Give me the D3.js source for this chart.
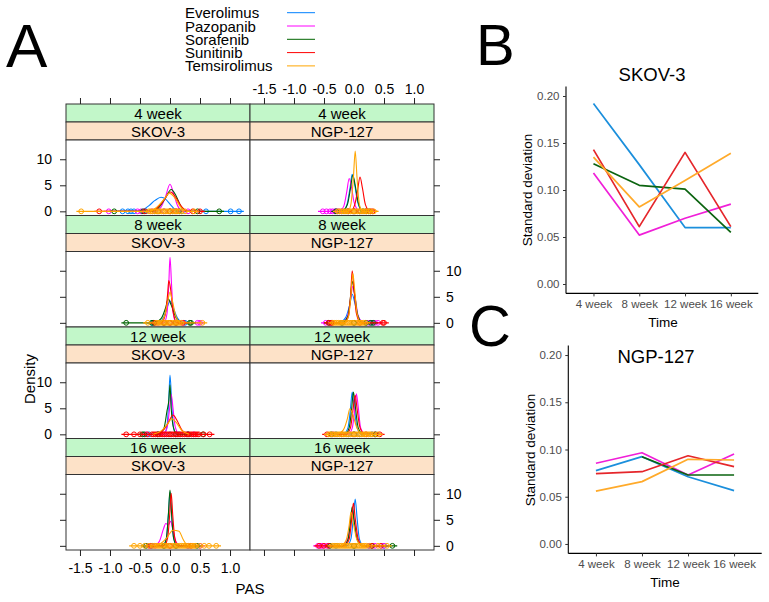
<!DOCTYPE html>
<html><head><meta charset="utf-8">
<script src="https://cdn.jsdelivr.net/npm/d3@7"></script>
<style>body{margin:0;background:#fff} svg{display:block;font-family:"Liberation Sans",Arial,sans-serif}</style>
</head><body><svg id="c" width="769" height="602"></svg>
<script>
// ---------- data ----------
const drugs = ["Everolimus","Pazopanib","Sorafenib","Sunitinib","Temsirolimus"];
const weeks = ["4 week","8 week","12 week","16 week"];
const cellLines = ["SKOV-3","NGP-127"];
const pasTicks = [-1.5,-1.0,-0.5,0.0,0.5,1.0];
const densityTicks = [0,5,10];
const sdTicks = [0.00,0.05,0.10,0.15,0.20];

// density curves: [PAS, density] per drug (drug order as above)
const dens4_SKOV3 = [
 [[-0.55,0],[-0.45,0.3],[-0.35,1.1],[-0.25,2.1],[-0.15,2.7],[-0.07,2.3],[0.0,1.4],[0.08,0.4],[0.15,0]],
 [[-0.25,0],[-0.15,0.8],[-0.08,2.6],[0.0,5.2],[0.06,3.4],[0.13,1.0],[0.22,0]],
 [[-0.3,0],[-0.18,0.8],[-0.08,2.5],[0.02,4.2],[0.1,3.0],[0.18,1.0],[0.28,0]],
 [[-0.32,0],[-0.2,0.8],[-0.1,2.2],[0.01,3.7],[0.1,2.6],[0.2,0.8],[0.3,0]],
 [[-0.35,0],[-0.22,0.8],[-0.1,2.3],[-0.01,3.5],[0.08,2.6],[0.18,0.8],[0.28,0]]
];
const dens4_NGP127 = [
 [[-0.2,0],[-0.12,1.2],[-0.07,4.2],[-0.03,7.1],[0.01,5.2],[0.06,1.8],[0.14,0]],
 [[-0.25,0],[-0.17,1.0],[-0.12,3.8],[-0.08,6.3],[-0.04,4.5],[0.0,1.8],[0.08,0]],
 [[-0.2,0],[-0.11,1.3],[-0.06,4.3],[-0.02,6.9],[0.02,5.0],[0.07,1.7],[0.15,0]],
 [[-0.06,0],[0.01,1.2],[0.06,4.0],[0.10,6.6],[0.14,4.5],[0.19,1.3],[0.27,0]],
 [[-0.1,0],[-0.05,1.5],[-0.01,6.5],[0.02,11.6],[0.05,6.5],[0.09,1.3],[0.14,0]]
];
const dens8_SKOV3 = [
 [[-0.2,0],[-0.1,1.2],[-0.04,3.2],[0.0,4.2],[0.05,3.0],[0.12,1.0],[0.22,0]],
 [[-0.1,0],[-0.05,1.8],[-0.02,7.5],[0.0,12.6],[0.025,7.5],[0.055,1.8],[0.1,0]],
 [[-0.28,0],[-0.15,0.8],[-0.07,3.0],[-0.03,4.6],[0.02,3.4],[0.1,1.0],[0.2,0]],
 [[-0.15,0],[-0.08,1.5],[-0.04,5.5],[-0.02,8.1],[0.01,6.5],[0.05,2.2],[0.12,0]],
 [[-0.18,0],[-0.09,1.3],[-0.04,4.0],[0.0,5.9],[0.04,4.2],[0.1,1.2],[0.18,0]]
];
const dens8_NGP127 = [
 [[-0.25,0],[-0.14,1.0],[-0.07,3.5],[-0.03,5.5],[0.01,4.0],[0.07,1.2],[0.16,0]],
 [[-0.2,0],[-0.11,1.2],[-0.06,4.3],[-0.02,7.0],[0.02,4.8],[0.07,1.3],[0.16,0]],
 [[-0.2,0],[-0.1,1.3],[-0.06,4.8],[-0.03,8.0],[0.01,5.5],[0.06,1.5],[0.14,0]],
 [[-0.16,0],[-0.09,1.4],[-0.055,5.5],[-0.03,10.0],[0.0,6.5],[0.04,1.8],[0.11,0]],
 [[-0.16,0],[-0.09,1.3],[-0.05,5.5],[-0.02,9.5],[0.01,6.5],[0.05,1.8],[0.12,0]]
];
const dens12_SKOV3 = [
 [[-0.1,0],[-0.05,1.6],[-0.02,6.8],[0.0,11.4],[0.025,6.8],[0.055,1.5],[0.1,0]],
 [[-0.12,0],[-0.05,1.2],[-0.01,4.6],[0.02,7.7],[0.05,5.0],[0.09,1.3],[0.16,0]],
 [[-0.2,0],[-0.1,1.2],[-0.05,4.5],[-0.02,6.5],[0.0,9.5],[0.02,5.0],[0.06,1.2],[0.12,0]],
 [[-0.25,0],[-0.12,0.7],[-0.03,2.2],[0.05,3.7],[0.12,2.6],[0.2,0.8],[0.32,0]],
 [[-0.28,0],[-0.14,0.7],[-0.04,2.0],[0.03,3.0],[0.11,2.2],[0.2,0.7],[0.32,0]]
];
const dens12_NGP127 = [
 [[-0.18,0],[-0.1,1.3],[-0.06,4.8],[-0.03,8.1],[0.0,5.5],[0.05,1.3],[0.13,0]],
 [[-0.1,0],[-0.03,1.2],[0.01,4.6],[0.04,7.8],[0.07,5.3],[0.11,1.3],[0.19,0]],
 [[-0.15,0],[-0.08,1.3],[-0.04,4.8],[-0.01,8.1],[0.02,5.5],[0.07,1.3],[0.15,0]],
 [[-0.14,0],[-0.06,1.2],[-0.02,4.4],[0.02,7.5],[0.05,5.0],[0.1,1.3],[0.18,0]],
 [[-0.3,0],[-0.18,0.8],[-0.11,3.0],[-0.07,4.9],[-0.02,3.8],[0.05,1.2],[0.15,0]]
];
const dens16_SKOV3 = [
 [[-0.12,0],[-0.06,1.5],[-0.025,6.2],[0.0,10.4],[0.025,6.2],[0.06,1.5],[0.12,0]],
 [[-0.27,0],[-0.18,0.8],[-0.11,3.2],[-0.07,4.3],[-0.03,4.0],[0.01,4.7],[0.05,3.0],[0.1,0.8],[0.18,0]],
 [[-0.12,0],[-0.06,1.5],[-0.025,6.4],[0.0,10.7],[0.025,6.4],[0.06,1.5],[0.12,0]],
 [[-0.1,0],[-0.04,1.5],[-0.005,6.0],[0.02,10.1],[0.045,6.0],[0.08,1.5],[0.14,0]],
 [[-0.3,0],[-0.15,0.5],[-0.05,1.6],[0.05,3.0],[0.15,2.8],[0.22,1.2],[0.3,0]]
];
const dens16_NGP127 = [
 [[-0.12,0],[-0.05,1.4],[-0.01,5.5],[0.02,9.0],[0.05,5.5],[0.09,1.3],[0.16,0]],
 [[-0.2,0],[-0.11,1.2],[-0.06,4.2],[-0.03,6.9],[0.01,4.5],[0.06,1.2],[0.15,0]],
 [[-0.18,0],[-0.1,1.2],[-0.06,4.5],[-0.03,7.5],[0.0,5.0],[0.05,1.3],[0.13,0]],
 [[-0.16,0],[-0.08,1.3],[-0.04,4.9],[-0.01,8.2],[0.02,5.3],[0.07,1.3],[0.15,0]],
 [[-0.22,0],[-0.13,1.1],[-0.08,4.0],[-0.05,6.5],[-0.01,4.3],[0.05,1.1],[0.14,0]]
];

// PAS observations (points on the baseline), per drug
const pas4_SKOV3 = [
 [-0.79,-0.7,-0.65,-0.6,-0.4,-0.25,-0.1,0.05,0.2,0.6,1.01,1.15],
 [-1.02,-0.54,-0.48,-0.3,-0.1,0.0,0.1,0.3],
 [-0.93,-0.45,-0.2,0.0,0.15,0.46,0.82],
 [-1.18,-0.42,-0.2,0.0,0.1,0.38,0.5],
 [-1.48,-0.35,-0.32,-0.29,-0.26,-0.23,-0.2,-0.17,-0.14,-0.11,-0.08,-0.05,-0.02,0.01,0.04,0.07,0.1,0.13,0.16,0.19,0.25,0.4]
];
const pas4_NGP127 = [
 [-0.3,-0.2,-0.1,0.0,0.1,0.2],
 [-0.52,-0.46,-0.4,-0.36,-0.32,-0.28,-0.25,-0.2,-0.1,0.0],
 [-0.3,-0.15,0.0,0.15,0.25],
 [-0.1,0.0,0.1,0.2,0.28,0.31],
 [-0.27,-0.24,-0.21,-0.18,-0.15,-0.12,-0.09,-0.06,-0.03,0.0,0.03,0.06,0.09,0.12,0.15,0.18,0.21,0.24,0.27,0.33]
];
const pas8_SKOV3 = [
 [-0.3,-0.1,0.0,0.1,0.25],
 [-0.2,0.0,0.2,0.46,0.5],
 [-0.73,-0.3,-0.27,-0.1,0.1,0.33,0.35],
 [-0.25,-0.1,0.0,0.1,0.22],
 [-0.37,-0.23,-0.2,-0.17,-0.14,-0.11,-0.08,-0.05,-0.02,0.01,0.04,0.07,0.1,0.13,0.16,0.19,0.54]
];
const pas8_NGP127 = [
 [-0.38,-0.2,0.0,0.2,0.3],
 [-0.47,-0.4,0.25,0.35,0.4],
 [-0.42,-0.2,0.0,0.2,0.28,0.32],
 [-0.42,-0.38,-0.36,0.1,0.48,0.5],
 [-0.35,-0.32,-0.29,-0.26,-0.23,-0.2,-0.17,-0.14,-0.11,-0.08,-0.05,-0.02,0.01,0.04,0.07,0.1,0.13,0.16,0.19]
];
const pas12_SKOV3 = [
 [-0.35,-0.2,0.0,0.15,0.3],
 [-0.4,-0.1,0.1,0.4],
 [-0.46,-0.43,-0.2,0.1,0.3,0.55],
 [-0.73,-0.6,-0.5,-0.38,-0.3,-0.27,-0.24,-0.21,-0.18,-0.15,-0.12,-0.09,-0.06,-0.03,0.0,0.03,0.06,0.09,0.12,0.15,0.18,0.21,0.24,0.27,0.3,0.33,0.36,0.39,0.42,0.45,0.48,0.56,0.66],
 []
];
const pas12_NGP127 = [
 [-0.3,-0.1,0.1,0.3],
 [-0.35,0.0,0.35],
 [-0.38,0.0,0.36],
 [-0.45,-0.2,0.2,0.43],
 [-0.42,-0.39,-0.36,-0.33,-0.3,-0.27,-0.24,-0.21,-0.18,-0.15,-0.12,-0.09,-0.06,-0.03,0.0,0.03,0.06,0.09,0.12,0.15,0.18,0.21,0.24,0.27,0.3,0.34,0.4]
];
const pas16_SKOV3 = [
 [-0.3,-0.1,0.1,0.3],
 [-0.35,-0.25,0.0,0.3,0.5],
 [-0.4,-0.1,0.1,0.45],
 [-0.32,0.0,0.35],
 [-0.6,-0.5,-0.42,-0.35,-0.29,-0.26,-0.23,-0.2,-0.17,-0.14,-0.11,-0.08,-0.05,-0.02,0.01,0.04,0.07,0.1,0.13,0.16,0.19,0.22,0.25,0.28,0.31,0.34,0.37,0.4,0.43,0.5,0.57,0.65,0.77]
];
const pas16_NGP127 = [
 [-0.3,0.0,0.25,0.5],
 [-0.6,-0.55,-0.52,-0.45,0.25,0.35,0.5],
 [-0.4,0.0,0.3,0.64],
 [-0.58,-0.5,-0.42,0.3,0.45],
 [-0.36,-0.33,-0.3,-0.27,-0.24,-0.21,-0.18,-0.15,-0.12,-0.09,-0.06,-0.03,0.0,0.03,0.06,0.09,0.12,0.15,0.18,0.21,0.26,0.4,0.55]
];

// standard deviations (panels B and C), per drug over weeks
const sdSKOV3 = [
 [0.192,0.127,0.060,0.060],
 [0.118,0.052,0.070,0.085],
 [0.128,0.105,0.101,0.055],
 [0.143,0.061,0.140,0.061],
 [0.135,0.082,0.110,0.139]
];
const sdNGP127 = [
 [0.0776,0.0924,0.0712,0.0564],
 [0.0854,0.0966,0.0730,0.0952],
 [null,0.0924,0.0730,0.0730],
 [0.0745,0.0765,0.0934,0.0818],
 [0.0560,0.0660,0.0896,0.0889]
];

// ---------- styles ----------
const colA = ["#0080ff","#ff00ff","#006400","#ff0000","#ffa500"];
const colB = ["#1b8fdc","#f01fd8","#0b6410","#e5262b","#ffaa2a"];
const stripWeekCol = "#c2f7c9", stripCellCol = "#fde2c8";

const svg = d3.select("#c");

// ---------- panel A ----------
const A = {left:66, top:104, colW:184, rowH:111.5, stripH:18};
const panelData = [
 [[dens4_SKOV3,pas4_SKOV3],[dens4_NGP127,pas4_NGP127]],
 [[dens8_SKOV3,pas8_SKOV3],[dens8_NGP127,pas8_NGP127]],
 [[dens12_SKOV3,pas12_SKOV3],[dens12_NGP127,pas12_NGP127]],
 [[dens16_SKOV3,pas16_SKOV3],[dens16_NGP127,pas16_NGP127]]
];
const fmt = d => d.toFixed(1);
const axisCol = "#222";

panelData.forEach((row, r) => {
  row.forEach((cell, c) => {
    const x0 = A.left + c*A.colW, x1 = x0 + A.colW;
    const top = A.top + r*A.rowH;
    const pTop = top + 2*A.stripH, pBot = top + A.rowH;
    const x = d3.scaleLinear([-1.733,1.333],[x0,x1]);
    const y = d3.scaleLinear([-0.8,13.7],[pBot,pTop]);
    const g = svg.append("g");
    // strips
    g.append("rect").attr("x",x0).attr("y",top).attr("width",A.colW).attr("height",A.stripH)
      .attr("fill",stripWeekCol).attr("stroke","#333").attr("stroke-width",1);
    g.append("rect").attr("x",x0).attr("y",top+A.stripH).attr("width",A.colW).attr("height",A.stripH)
      .attr("fill",stripCellCol).attr("stroke","#333").attr("stroke-width",1);
    g.append("text").attr("x",(x0+x1)/2).attr("y",top+14.5).attr("text-anchor","middle")
      .attr("font-size",15).text(weeks[r]);
    g.append("text").attr("x",(x0+x1)/2).attr("y",top+A.stripH+14.5).attr("text-anchor","middle")
      .attr("font-size",15).text(cellLines[c]);
    // panel
    g.append("rect").attr("x",x0).attr("y",pTop).attr("width",A.colW).attr("height",pBot-pTop)
      .attr("fill","#fff").attr("stroke","#333").attr("stroke-width",1);
    const clipId = `clip${r}${c}`;
    svg.append("clipPath").attr("id",clipId).append("rect")
      .attr("x",x0).attr("y",pTop).attr("width",A.colW).attr("height",pBot-pTop);
    const pg = g.append("g").attr("clip-path",`url(#${clipId})`);
    const [dens, pas] = cell;
    const line = d3.line().x(d=>x(d[0])).y(d=>y(d[1])).curve(d3.curveMonotoneX);
    drugs.forEach((dname, k) => {
      const pts = pas[k];
      pg.selectAll(null).data(pts).join("circle")
        .attr("cx",d=>x(d)).attr("cy",y(0)).attr("r",2.4)
        .attr("fill","none").attr("stroke",colA[k]).attr("stroke-width",1);
      const cv = dens[k].slice();
      const lo = Math.min(cv[0][0], pts.length ? d3.min(pts)-0.08 : cv[0][0]);
      const hi = Math.max(cv[cv.length-1][0], pts.length ? d3.max(pts)+0.08 : cv[cv.length-1][0]);
      if (lo < cv[0][0]) cv.unshift([lo,0]);
      if (hi > cv[cv.length-1][0]) cv.push([hi,0]);
      pg.append("path").attr("d",line(cv)).attr("fill","none")
        .attr("stroke",colA[k]).attr("stroke-width",1.1);
    });
    // axes
    if (r === 0) {
      const ax = svg.append("g").attr("transform",`translate(0,${A.top})`)
        .call(d3.axisTop(x).tickValues(pasTicks).tickSize(6).tickPadding(4).tickFormat(c===1?fmt:""));
      styleAxis(ax);
    }
    if (r === 3) {
      const ax = svg.append("g").attr("transform",`translate(0,${pBot})`)
        .call(d3.axisBottom(x).tickValues(pasTicks).tickSize(6).tickPadding(7).tickFormat(c===0?fmt:""));
      styleAxis(ax);
    }
    if (c === 0) {
      const ax = svg.append("g").attr("transform",`translate(${x0},0)`)
        .call(d3.axisLeft(y).tickValues(densityTicks).tickSize(6).tickPadding(8).tickFormat(r%2===0?d3.format("d"):""));
      styleAxis(ax);
    } else {
      const ax = svg.append("g").attr("transform",`translate(${x1},0)`)
        .call(d3.axisRight(y).tickValues(densityTicks).tickSize(6).tickPadding(6).tickFormat(r%2===1?d3.format("d"):""));
      styleAxis(ax);
    }
  });
});
function styleAxis(ax){
  ax.select(".domain").remove();
  ax.selectAll("line").attr("stroke",axisCol);
  ax.selectAll("text").attr("font-size",14).attr("fill","#000")
    .attr("font-family",'"Liberation Sans",Arial,sans-serif');
}
// axis titles A
svg.append("text").attr("transform","translate(35,379) rotate(-90)").attr("text-anchor","middle")
  .attr("font-size",15).text("Density");
svg.append("text").attr("x",250).attr("y",594).attr("text-anchor","middle")
  .attr("font-size",15).text("PAS");
// legend
drugs.forEach((dname,k) => {
  const by = 18.2 + k*13.3;
  svg.append("text").attr("x",185).attr("y",by).attr("font-size",15).text(dname);
  svg.append("line").attr("x1",287).attr("x2",315).attr("y1",by-5.5).attr("y2",by-5.5)
    .attr("stroke",colA[k]).attr("stroke-width",1);
});
// panel letters
svg.append("text").attr("x",6).attr("y",67).attr("font-size",62).text("A");
svg.append("text").attr("x",476).attr("y",65).attr("font-size",58).text("B");
svg.append("text").attr("x",469).attr("y",346).attr("font-size",58).text("C");

// ---------- panels B and C ----------
function sdPanel(data, title, o){
  const x = d3.scalePoint(weeks,[o.x0,o.x1]).padding(0.6);
  const y = d3.scaleLinear([-0.01,0.21],[o.y1,o.y0]);
  const g = svg.append("g");
  const line = d3.line().defined(d=>d[1]!==null).x(d=>x(d[0])).y(d=>y(d[1]));
  data.forEach((vals,k) => {
    g.append("path").attr("d",line(weeks.map((w,i)=>[w,vals[i]])))
      .attr("fill","none").attr("stroke",colB[k]).attr("stroke-width",1.7)
      .attr("stroke-linejoin","round");
  });
  const ay = g.append("g").attr("transform",`translate(${o.x0},0)`)
    .call(d3.axisLeft(y).tickValues(sdTicks).tickSize(3).tickPadding(3.5).tickFormat(d3.format(".2f")));
  const axx = g.append("g").attr("transform",`translate(0,${o.y1})`)
    .call(d3.axisBottom(x).tickSize(3).tickPadding(3));
  [ay,axx].forEach(a => {
    a.select(".domain").attr("stroke","#000").attr("stroke-width",1.1);
    a.selectAll(".tick line").attr("stroke","#333");
    a.selectAll("text").attr("font-size",11.5).attr("fill","#4d4d4d")
      .attr("font-family",'"Liberation Sans",Arial,sans-serif');
  });
  ay.select(".domain").attr("d",`M0,${o.y1}V${o.y0}`);
  axx.select(".domain").attr("d",`M${o.x0},0H${o.x1}`);
  g.append("text").attr("x",o.tx).attr("y",o.ty).attr("text-anchor","middle")
    .attr("font-size",18.5).text(title);
  g.append("text").attr("transform",`translate(${o.yx},${o.yy}) rotate(-90)`).attr("text-anchor","middle")
    .attr("font-size",13.5).text("Standard deviation");
  g.append("text").attr("x",o.timeX).attr("y",o.timeY).attr("text-anchor","middle")
    .attr("font-size",13.5).text("Time");
}
sdPanel(sdSKOV3,"SKOV-3",{x0:566,x1:758.3,y0:86.6,y1:293.4,tx:652,ty:80.5,yx:531.5,yy:190,timeX:663,timeY:326.7});
sdPanel(sdNGP127,"NGP-127",{x0:568.3,x1:761.7,y0:345.6,y1:553.4,tx:656,ty:362.7,yx:535,yy:450,timeX:665,timeY:586.7});
</script></body></html>
